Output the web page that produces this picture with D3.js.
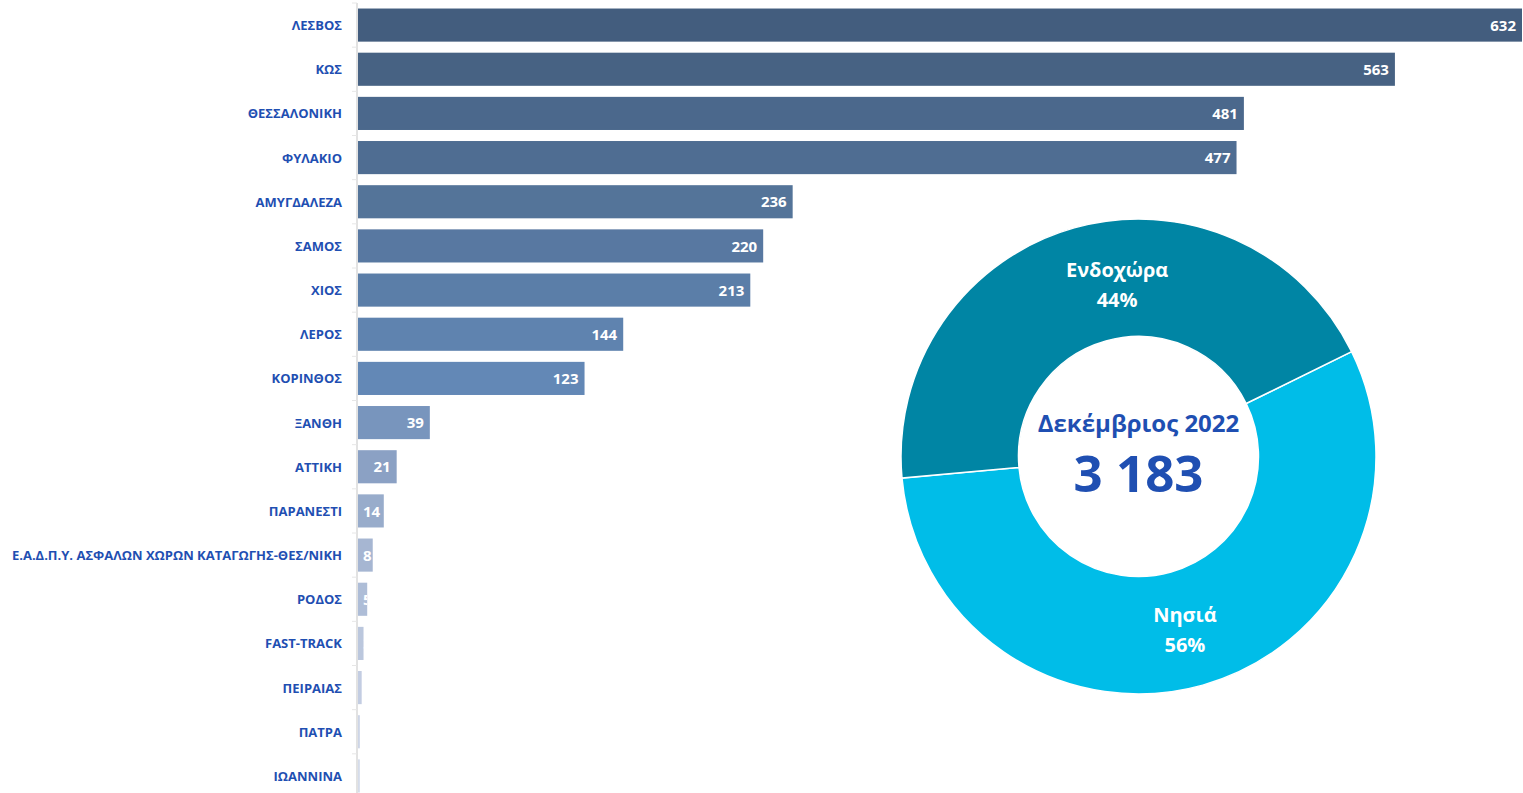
<!DOCTYPE html>
<html>
<head>
<meta charset="utf-8">
<script src="https://cdn.jsdelivr.net/npm/d3@7"></script>
<style>
  html, body { margin: 0; padding: 0; background: #fff; }
  svg { display: block; font-family: "Open Sans", "Noto Sans", sans-serif; }
</style>
</head>
<body>
<div id="chart"></div>
<script>
// categories and values (Δεκέμβριος 2022)
const categories = ["ΛΕΣΒΟΣ", "ΚΩΣ", "ΘΕΣΣΑΛΟΝΙΚΗ", "ΦΥΛΑΚΙΟ", "ΑΜΥΓΔΑΛΕΖΑ", "ΣΑΜΟΣ", "ΧΙΟΣ", "ΛΕΡΟΣ",
  "ΚΟΡΙΝΘΟΣ", "ΞΑΝΘΗ", "ΑΤΤΙΚΗ", "ΠΑΡΑΝΕΣΤΙ", "Ε.Α.Δ.Π.Υ. ΑΣΦΑΛΩΝ ΧΩΡΩΝ ΚΑΤΑΓΩΓΗΣ-ΘΕΣ/ΝΙΚΗ",
  "ΡΟΔΟΣ", "FAST-TRACK", "ΠΕΙΡΑΙΑΣ", "ΠΑΤΡΑ", "ΙΩΑΝΝΙΝΑ"];
const values = [632, 563, 481, 477, 236, 220, 213, 144, 123, 39, 21, 14, 8, 5, 3, 2, 1, 1];

// donut: split islands / mainland
const regionLabels = ["Νησιά", "Ενδοχώρα"];
const regionValues = [1777, 1406];
const centerTitle = "Δεκέμβριος 2022";
const centerTotal = "3 183";

// bar palette, dark to light
const barColors = ["#435d7e", "#476283", "#4b688c", "#4f6d92", "#547499", "#5878a1", "#5b7ea8", "#5f83af",
  "#6388b6", "#7895bd", "#8ba1c4", "#98accb", "#a6b6d2", "#aebdd7", "#bbc7dd", "#c3cde2", "#cdd5e6", "#d5dcea"];
const regionColors = ["#00bde8", "#0085a4"];

const W = 1523, H = 793;
const svg = d3.select("#chart").append("svg").attr("width", W).attr("height", H);

/* Bars */
const x = d3.scaleLinear().domain([0, 632]).range([358, 1522]);
const y = d3.scaleBand().domain(categories).range([3, 798]).paddingInner(0.25).paddingOuter(0.125);

const textBlue = "#1f4fb2";

// axis line with small ticks at band boundaries
const axisG = svg.append("g");
axisG.append("line")
  .attr("x1", 357).attr("x2", 357).attr("y1", 3).attr("y2", H)
  .attr("stroke", "#d9d9d9").attr("stroke-width", 1.5);
axisG.selectAll("line.tick")
  .data(categories)
  .join("line")
  .attr("class", "tick")
  .attr("x1", 352).attr("x2", 357)
  .attr("y1", d => y(d) - y.step() * y.paddingInner() / 2)
  .attr("y2", d => y(d) - y.step() * y.paddingInner() / 2)
  .attr("stroke", "#e6e6e6").attr("stroke-width", 1);

// category labels
svg.append("g").selectAll("text")
  .data(categories)
  .join("text")
  .attr("x", 342)
  .attr("y", d => y(d) + y.bandwidth() / 2)
  .attr("dy", "0.38em")
  .attr("text-anchor", "end")
  .attr("fill", textBlue)
  .attr("font-size", 13)
  .attr("font-weight", 700)
  .text(d => d);

const barData = categories.map((c, i) => ({c, v: values[i], i}));

const defs = svg.append("defs");
defs.selectAll("clipPath")
  .data(barData)
  .join("clipPath")
  .attr("id", d => "clip" + d.i)
  .append("rect")
  .attr("x", x(0))
  .attr("y", d => y(d.c))
  .attr("width", d => x(d.v) - x(0))
  .attr("height", y.bandwidth());

svg.append("g").selectAll("rect")
  .data(barData)
  .join("rect")
  .attr("x", x(0))
  .attr("y", d => y(d.c))
  .attr("width", d => x(d.v) - x(0))
  .attr("height", y.bandwidth())
  .attr("fill", d => barColors[d.i]);

// value labels, inside end, clipped to bar
const lbl = svg.append("g").selectAll("text")
  .data(barData)
  .join("text")
  .attr("clip-path", d => `url(#clip${d.i})`)
  .attr("y", d => y(d.c) + y.bandwidth() / 2)
  .attr("dy", "0.38em")
  .attr("fill", "#fff")
  .attr("font-size", 15)
  .attr("font-weight", 700)
  .text(d => d.v);
lbl.each(function(d) {
  const w = this.getComputedTextLength();
  const end = Math.max(x(d.v) - 6, x(0) + 5 + w);
  d3.select(this).attr("x", end).attr("text-anchor", "end");
});

/* Donut */
const cx = 1138.5, cy = 456.5, rOuter = 237.5, rInner = 120;
const startDeg = 63.8;
const pie = d3.pie().sort(null)
  .startAngle(startDeg * Math.PI / 180)
  .endAngle((startDeg + 360) * Math.PI / 180);
const arc = d3.arc().innerRadius(rInner).outerRadius(rOuter);
const arcs = pie(regionValues);

const donut = svg.append("g").attr("transform", `translate(${cx},${cy})`);
donut.selectAll("path")
  .data(arcs)
  .join("path")
  .attr("d", arc)
  .attr("fill", (d, i) => regionColors[i])
  .attr("stroke", "#fff")
  .attr("stroke-width", 1.5);

const total = d3.sum(regionValues);
const labelG = donut.selectAll("g.lab")
  .data(arcs)
  .join("g")
  .attr("class", "lab")
  .attr("transform", (d, i) => {
    const [px, py] = arc.centroid(d);
    // Excel nudges the upper label towards the top centre
    return `translate(${px + (i === 1 ? 27 : -2)},${py + (i === 1 ? 1 : 1)})`;
  });
labelG.append("text")
  .attr("text-anchor", "middle")
  .attr("y", -8)
  .attr("fill", "#fff")
  .attr("font-size", 20)
  .attr("font-weight", 700)
  .text((d, i) => regionLabels[i]);
labelG.append("text")
  .attr("text-anchor", "middle")
  .attr("y", 22)
  .attr("fill", "#fff")
  .attr("font-size", 20)
  .attr("font-weight", 700)
  .text(d => Math.round(d.value / total * 100) + "%");

donut.append("text")
  .attr("text-anchor", "middle")
  .attr("y", -25)
  .attr("fill", textBlue)
  .attr("font-size", 24)
  .attr("font-weight", 700)
  .text(centerTitle);
donut.append("text")
  .attr("text-anchor", "middle")
  .attr("y", 35)
  .attr("fill", textBlue)
  .attr("font-size", 51)
  .attr("font-weight", 700)
  .text(centerTotal);
</script>
</body>
</html>
